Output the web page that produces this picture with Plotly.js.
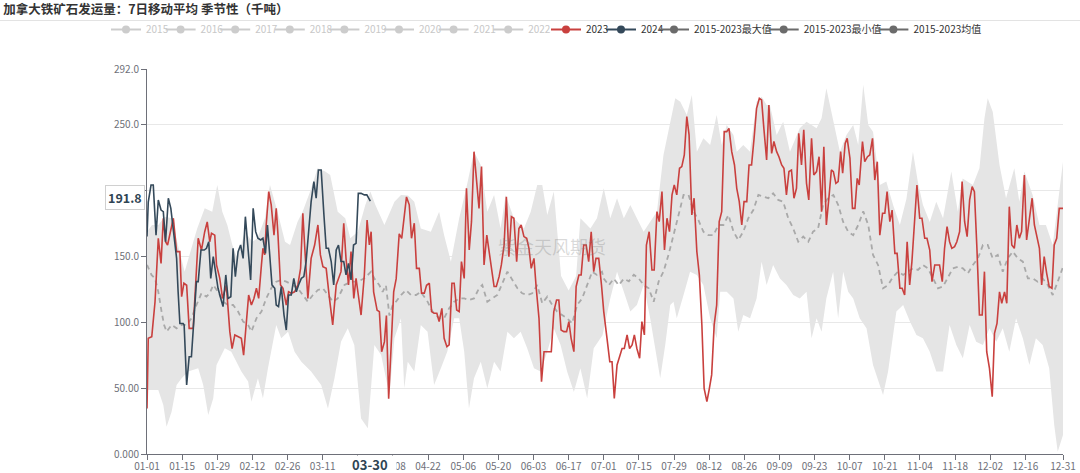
<!DOCTYPE html>
<html>
<head>
<meta charset="utf-8">
<script src="https://cdn.plot.ly/plotly-3.0.1.min.js"></script>
<style>
html,body{margin:0;padding:0;background:#fff;}
#chart{width:1080px;height:473px;}
</style>
</head>
<body>
<div id="chart"></div>
<script>
// ---------- axis labels ----------
const tickDays = [0,14,28,42,56,70,84,98,112,126,140,154,168,182,196,210,224,238,252,266,280,294,308,322,336,350,365];
const tickLabels = ['01-01','01-15','01-29','02-12','02-26','03-11','03-25','04-08','04-22','05-06','05-20','06-03','06-17','07-01','07-15','07-29','08-12','08-26','09-09','09-23','10-07','10-21','11-04','11-18','12-02','12-16','12-31'];
const yTicks = [0,50,100,150,200,250,292];
const yTickLabels = ['0.000','50.00','100.0','150.0','200.0','250.0','292.0'];

// ---------- legend names ----------
const hiddenYears = ['2015','2016','2017','2018','2019','2020','2021','2022'];
const statNames = ['2015-2023最大值','2015-2023最小值','2015-2023均值'];

// ---------- 2023 (day of year, value) ----------
const days2023 = [
0,0.5,1.9,3.2,4.5,5.6,6.5,7.4,8.2,9.1,10.5,11.8,13.1,13.8,14.7,15.8,16.8,18.4,20.4,21.7,23,24,25,25.7,27,27.7,29,30.1,31.6,33,33.9,35,36.3,37.6,38.5,39.6,40.5,41.6,42.6,43.6,44.5,45.6,46.2,46.9,47.5,48.5,49.5,50.6,51.5,52.2,53.2,54.2,55.5,56.4,57.5,58.8,60.1,61.2,62.1,62.8,64.1,65.4,66.8,68.1,69.1,70.1,71.4,72.7,74,75.4,77.3,78.4,79.3,80.3,81.3,82.4,83.3,84.2,85.3,86.6,87.7,88.6,89.3,90.3,
91.7,92.6,93.5,94.6,95.4,96.3,97.2,98.3,99.3,100.5,101.5,102.5,103.4,104.5,105.4,106.5,107.4,108.5,109.4,110.5,111.4,112.5,113.4,114.4,115.5,116.4,117.5,118.4,119.5,120.4,121.5,122.4,123.4,124.4,125.3,126.4,127.3,128.4,129.3,130.3,131.3,132.3,133.3,134.3,135.4,136.3,137.2,138.3,139.2,140.3,141.2,142.3,143.2,144.2,145.2,146.2,147.3,148.2,149.1,150.2,151.3,152.2,153.1,154.2,155.1,156.2,157.2,158.2,161.1,162.1,163.2,164.1,165,166.1,167.2,168.1,169,170.1,171,172.1,173,174,175,176,177,178,178.9,180,181.1,182,
183.3,184.4,185.3,186.2,187.3,188.4,189.3,190.2,191.3,192.3,193.3,194.2,195.2,196.3,197.2,198.2,199,200.1,201.2,202.1,203.2,204.1,205.2,206.2,207.2,208.2,209.2,210.1,211.1,212.2,213.1,214.1,215.1,216,217.1,218,219.1,220.1,221.1,222,223.1,224.1,225,226,227,228,229,230,231,231.9,233,234.1,235,236,237,237.9,239,239.9,240.9,241.9,242.9,244,244.9,245.8,246.9,247.8,248.9,249.8,250.9,251.8,252.9,253.8,254.8,255.8,256.8,257.8,258.8,259.7,260.8,261.7,262.8,263.7,264.8,265.7,266.8,267.8,268.8,269.7,270.7,271.7,272.7,
273.5,274.5,275.4,276.4,277.2,278.2,279,280.1,281.1,282.1,283,283.8,285.1,286,287.1,288,289.1,290,291,292,293.1,294,294.9,296,296.9,298,298.9,300,300.9,301.9,302.9,303.9,304.8,305.9,306.8,307.9,308.8,309.9,310.8,311.9,312.8,313.9,314.8,315.8,316.9,317.8,318.8,319.8,320.7,321.8,322.7,323.8,324.8,325.8,326.8,327.8,328.8,329.7,330.7,331.7,332.8,333.7,334.6,335.7,336.8,337.7,338.7,339.7,340.6,341.7,342.6,343.6,344.6,345.6,346.6,347.6,348.5,349.6,350.5,351.6,352.7,353.6,354.5,355.6,356.5,357.5,358.5,359.5,360.6,361.5,362.5,363.5,365];
const values2023 = [
34.6,87.7,89,115.5,163.6,144.6,178.8,161,158.5,166,178.8,153.5,153.5,119.3,129.5,128,95.3,95.3,163.6,154.7,168.6,176,161,167.4,166,143.4,133.2,118,128,92.8,80,90.3,89,87.7,75,97.9,120.6,113,118,125.7,118,143.4,156,151,173.7,199,188.9,166,186.3,166,128.2,125.7,113,123,121.9,123,128.2,140.8,182.6,158.5,118,148.4,158.5,173.7,151,142,140.8,118,97.9,128.2,138.3,175,148.4,128.2,153.5,118,133.2,120.6,105.4,135.8,177.5,158.5,168.6,123,
109,108,77.6,85,105,42,82.7,123,133,167,163.6,178.8,195,189,163.6,175,140.8,140.8,122,122,128,129.5,108,106.7,106.7,100.4,110.5,87.7,81.4,82.7,129.5,129.5,109.2,108,145.9,133.2,201.5,154.7,176.2,229.3,209,186.3,218,143.4,166,153.5,143.4,127,127,134.5,143.4,158.5,195,149.7,180,178.8,145.9,171,173.7,164.9,163.6,156,140.8,148.4,125.7,102.9,54.9,77.6,77.6,108,116.8,116.8,94,92.8,92.8,100.4,87.7,77.6,127,135.8,135.8,158.5,158.5,145.9,168.6,138.3,148.4,148.4,128.2,108,
87.7,70,70,42.2,67.5,75,80,80,90.3,80,82.7,90.3,80,72.6,100.4,90.3,158.5,168.6,139.6,139.6,183.8,176.2,199,154.7,178.8,168.6,196.5,204,196.5,216.7,218,226.8,255.9,242,181.3,194,153.5,135.8,97.9,49.8,39.7,49.8,60,97.9,113,176.2,183.8,244.5,244.5,247,229.3,219.2,201.5,191.4,173.7,191.4,191.4,219.2,219.2,239.4,262.2,269.8,268.5,247,223,264.7,228,237,229.3,225.5,219.2,216.7,196.5,214.2,215.4,194,201.5,243.2,219.2,245.8,205.3,192.7,239.4,211.6,214.2,225.5,183.8,233.1,173.7,194,215.4,
214.2,205.3,206.6,229.3,212.9,235.6,239.4,224.3,186.3,186.3,209,204,236.9,221.7,225.5,226.8,239.4,207.8,221.7,166,182.6,182.6,199,176.2,185,152.2,152.2,125.7,125.7,120.6,161,128.2,145.9,178.8,204,178.8,178.8,163.6,163.6,154.7,130.7,143.4,143.4,143.4,130.7,156,172.4,161,156,157.3,161,168.6,206.6,176.2,164.9,192.7,202.8,199,156,105.4,105.4,138.3,77.6,65,43.5,91.5,99,123,114.3,123,114.3,187.6,158.5,156,173.7,163.6,168.6,211.6,162.3,178.8,194,173.7,164.9,156,128.2,149.7,137,127,125.7,158.5,163.6,186.3,186.3];

// ---------- 2024 ----------
const days2024 = [0,0.5,1.6,2.5,3.6,4.5,5.6,6.5,7.4,8.5,9.5,10.5,11.8,12.4,13.1,14.4,14.8,15.8,16.8,17.7,18.8,19.7,20.4,21.5,22.8,23.7,24.6,25.4,26.4,27.3,28.3,29.4,30.3,31.4,32.3,33.4,34.3,35.2,36.3,37.3,38.3,39.2,40.3,41.3,42.3,43.3,44.2,45.3,46.2,47.2,48,48.9,49.8,50.9,51.5,52.4,53.5,54.6,55.5,56.4,57.5,58.5,59.5,60.4,61.5,62.5,63.4,64.4,65.4,66.5,67.4,68.3,69.4,70.5,71.4,72.3,73.4,74.4,75.4,76.3,77.3,78.4,79.3,80.3,81.3,82.3,83.3,84.2,85.3,86.6,87.6,89];
const values2024 = [165,191,204,204,166,192.7,185,183.8,161,194,186.3,171,148.4,123,99,99,97.9,52.3,73.8,73.8,108,130.7,130.7,154.7,154.7,156,161,133.2,149.7,138.3,125.7,118,111.8,135.8,118,119.3,156,134.5,153.5,158.5,148.4,180,153.5,132,186.3,168.6,163.6,162.3,163.6,152.2,173.7,151,128.2,125.7,113,111.8,127,105.4,94,120.6,120.6,133.2,123,128.2,133.2,134.5,146,168.6,191.4,206.6,194,215.4,215.4,181.3,156,156,146,128.2,154.7,158.5,146,146,135.8,144.6,132,158.5,159.8,197.7,197.7,196.5,196.5,191.8];

// ---------- 2015-2023 max ----------
const daysMax = [0,2,4.5,7,10,12,15,18,20,23,26,28,30,32,34,36,39,42,44,47,49,52,55,57,60,62,65,68,71,73,76,79,81,84,87,89,91,
94.6,98.6,101.2,104,106.5,109.1,113.1,116.4,118.4,121.1,124.4,127.5,130.3,133,135.6,138.3,140.9,142.9,146.2,150.2,152.9,155.5,157.5,159.5,162.1,165,168,171,172.7,176.7,179.3,182,
184.6,187.3,190,192.6,195.2,197.9,200.5,203.2,205.8,207.8,210.5,212.5,215.1,217.1,219.1,221.7,224.4,227,229,231,233.7,235,237.6,240.3,242.9,244.9,246.9,248.2,250.9,253.5,256.2,260.1,262.8,266.8,268.8,270.7,273.4,
276.1,278.7,281.4,283.4,285.4,287.4,289.3,292,294.6,297.3,300,302.6,305.2,307.2,309.2,311.9,314.5,317.2,320.5,323.1,325,329.1,331.7,333.7,335,337,339.7,342.3,345.6,347.6,349.6,352.9,355.6,358.2,360.9,365];
const valuesMax = [168.6,173.7,173.7,180,178.8,161,138.3,158.5,171,186.3,183.8,204,183.8,173.7,158.5,148.4,168.6,161,163.6,178.8,204,183.8,161,158.5,176.2,183.8,199,216.7,214.2,211.6,183.8,178.8,163.6,168.6,188.9,199,188.9,
173.7,191.4,196.5,196,191.4,171,168.6,183.8,166,145.9,178.8,204,229.3,219.2,183.8,196.5,171,196.5,178.8,171,183.8,204,204,181.3,199,135,124,135,178.8,171,178.8,201.5,
178.8,194,178.8,188.9,178.8,168.6,176.2,183.8,226.8,244.5,269.8,267.2,257.1,272.3,229.3,239.4,234.4,257.1,234.4,249.6,242,229.3,234.4,229.3,267.2,271,264.7,264.7,242,252,229.3,247,252,247,254.6,277.4,254.6,
229.3,242,249.6,234.4,280,249.6,244.5,204,206.6,188.9,173.7,193.4,229.3,206,188.9,176,191.4,178.8,214.2,183.8,209,204,216.7,254.6,269.8,259.6,219.2,193.9,216.7,191.4,214.2,196.5,173.7,173.7,158.5,221.7];

// ---------- 2015-2023 min ----------
const daysMin = [0,4.5,6.5,7.8,9.8,11.8,13.8,16.4,20.4,22.4,24.4,26.4,27.7,31,33.6,37.6,40.3,41.6,44.2,46.2,48.2,51.5,53.5,56.2,58.8,61.5,65.4,69.4,72.1,74.7,77.3,80,82.6,85.3,88,90.6,
93.3,96.6,98.6,101.2,102.5,103.9,106.5,109.1,111.8,114.4,117.1,119.7,122.4,124.4,126.4,128.3,130.3,133,135.6,138.3,140.9,143.6,146.2,148.9,151.5,154.2,156.8,159.5,162.1,164.8,167.4,170.1,172.7,175.4,178,181.5,
184.6,187.3,190,192.6,195.2,197.9,200.5,203.2,204.5,206.5,208.5,209.8,211.1,213.8,216.4,219.1,221.7,224.4,227,228.4,231,233.7,235.6,237.6,240.3,242.9,244.9,246.9,249.5,252.2,254.8,257.5,260.1,262.8,264.8,266.8,268.8,270.7,273.4,
275.4,277.4,279.4,281.4,284,286.7,289.3,292,293.3,295.3,298.6,301.3,304,306.6,309.2,311.9,314.5,317.2,319.8,322.5,325.1,327.8,330.4,333.1,335.7,338.4,341,343.6,346.3,349,351.6,354.2,356.9,359.5,361.5,362.9,365];
const valuesMin = [48.5,48.5,37.2,20.7,32.1,52.3,57.4,62.5,65,52.3,29.6,42.2,67.5,80.2,77.6,62.5,54.9,39.7,57.4,42.2,65,97.9,87.7,92.8,77.6,70,62.5,52.3,34.6,57.4,85.2,95.3,82.7,27,19.5,82.7,
75,44.8,87.7,102.9,49.8,70,62.5,97.9,92.8,52.3,65,78,102.9,102.9,77.6,34.6,57.4,70,49.8,70,62.5,92.8,87.7,92.8,80.2,65,62.5,77.6,95.3,82.7,62.5,47,65,42.2,80.2,90,
118,138.3,123,108,113,128.2,102.9,72.6,57.4,82.7,113,115.5,102.9,120.6,138.3,135.8,128.2,102.9,87.7,123,123,118,92.8,105.4,102.9,118,145.9,128.2,143.4,133.2,128.2,120.6,118,123,87.7,102.9,92.8,118,138.3,
102.9,138.3,123,118,102.9,95.3,67.5,52.3,44.8,62.5,108,113,100.4,90.3,87.7,77.6,62.5,62.5,97.9,82.7,72.6,97.9,85.2,82.7,95.3,85.2,95.3,77.6,102.9,87.7,67.5,87.7,82.7,65,22,1.8,14.4];

// ---------- 2015-2023 mean ----------
const daysMean = [0,1.8,3.2,4.5,5.8,6.8,7.8,9.8,11.8,13.8,15.8,17.7,19.7,21.7,23.7,25,26.4,28.3,30.3,32.3,34.3,36.3,38.3,40.3,41.6,43.6,45.6,47.5,49.5,51.5,53.5,55.5,58.1,60.1,62.1,64.1,66.1,68.1,70.1,72.1,74.1,76,78.7,81.3,84,86.6,89.3,
90.6,92.6,93.9,95.2,96.6,97.9,99.2,101.2,103.2,105.2,107.2,109.1,111.8,113.8,116.4,118.4,120.4,122.4,124.4,126.4,128.4,130.3,132.3,133.6,135.6,137.6,139.6,141.6,143.6,145.6,147.6,149.5,151.5,153.5,155.5,157.5,159.5,161.5,163.4,165.4,167.4,169.4,171.4,173.4,175.4,177.4,179.3,181.3,
182,184,186,188,190,192,194,196,198,199.9,201.9,203.9,205.8,207.8,209.8,211.8,213.8,215.8,217.8,219.7,221.7,223.7,225.7,227.7,229.7,231.7,233.7,235.6,237.6,239.6,241.6,243.6,245.6,247.6,249.5,251.5,253.5,255.5,257.5,259.5,261.5,263.5,265.4,267.4,269.4,271.4,
273.5,275.4,277.4,279.4,281.4,283.4,285.4,287.4,289.3,291.3,293.3,295.3,297.3,299.3,301.3,303.3,305.2,307.2,309.2,311.2,313.2,315.2,317.2,319.1,321.1,323.1,325.1,327.1,329.1,331.1,333.1,335,337,339,341,343,345,347,349,351,352.9,354.9,356.9,358.9,360.9,362.9,365];
const valuesMean = [143.4,135.8,133.2,123,108,97.9,92.8,97.9,95.3,97.9,97.9,102.9,113,121.9,119.3,121.9,128.2,123,115.5,113,113,108,100.4,97.9,92.8,102.9,108,118,125.7,130.7,132,130.7,128.2,125.7,120.6,115.5,120.6,124.4,125.7,120.6,115.5,118,128.2,130.7,130.7,133.2,138.3,
133,128,123,128,105,113,115.5,120.6,124.4,120.6,120.6,123,115.5,108,103,103,110.5,115.5,118,118,116.8,118,125.7,128.2,115.5,118,120.6,129.5,138.3,132,125.7,121.9,120.6,121.9,128.2,114.3,119.3,113,108,105.4,102.9,99,113,118,128.2,138.3,135.8,138.3,
133,128,133,128,133,131,136,133,128,125.7,115.5,131,138.3,151,166,181,196.5,196.5,184,177.5,168.6,166,166,173.7,173.7,181.3,168.6,162.3,168.6,178.8,185,196.5,195,194,197.7,192.7,191.4,178.8,171,161,164.9,161,168.6,171,188.9,194,
196.5,189,176,168.6,166,173.7,184,173.7,151,143.4,125.7,128.2,134.5,138.3,135.8,138.3,140.8,139.6,143.4,140.8,133.2,125.7,127,133.2,140.8,142,140.8,137,143.4,148.4,158.5,158.5,148.4,151,138.3,148.4,153.5,148.4,145.9,133.2,133.2,130.7,133.2,128.2,120.6,130.7,142];

// ---------- styles ----------
const C2023 = '#c9403e';
const C2024 = '#34495a';
const CSTAT = '#6b6b6b';
const CHIDE = '#cccccc';
const FONT = '"Noto Sans CJK SC","Noto Sans",sans-serif';

const traces = [
  {x: daysMin, y: valuesMin, mode: 'lines', line: {width: 0, color: 'rgba(0,0,0,0)'}, showlegend: false, hoverinfo: 'skip', name: statNames[1]},
  {x: daysMax, y: valuesMax, mode: 'lines', line: {width: 0, color: 'rgba(0,0,0,0)'}, fill: 'tonexty', fillcolor: '#e5e5e5', showlegend: false, hoverinfo: 'skip', name: statNames[0]},
  {x: daysMean, y: valuesMean, mode: 'lines', line: {width: 1.8, color: '#a9a9a9', dash: '5px,4px'}, showlegend: false, name: statNames[2]},
  {x: days2023, y: values2023, mode: 'lines', line: {width: 1.6, color: C2023}, showlegend: false, name: '2023'},
  {x: days2024, y: values2024, mode: 'lines', line: {width: 1.6, color: C2024}, showlegend: false, name: '2024'}
];

// legend entries (symbol only, no data)
function legendEntry(name, color, legendId){
  return {x:[null], y:[null], mode:'lines+markers', name:name, legend:legendId,
    line:{color:color, width:2}, marker:{color:color, size:8}};
}
// invisible spacer so the last label of a fixed-width legend row is not clipped
function legendSpacer(legendId){
  return {x:[null], y:[null], mode:'lines', name:' ', legend:legendId,
    line:{color:'rgba(0,0,0,0)', width:0}};
}
hiddenYears.forEach(function(n){ traces.push(legendEntry(n, CHIDE, 'legend')); });
traces.push(legendSpacer('legend'));
traces.push(legendEntry('2023', C2023, 'legend2'));
traces.push(legendEntry('2024', C2024, 'legend2'));
traces.push(legendSpacer('legend2'));
statNames.forEach(function(n){ traces.push(legendEntry(n, CSTAT, 'legend3')); });

const PL = 147, PW = 916, PT = 69, PH = 385;
function px2x(p){ return (p - PL) / PW; }
function py2y(p){ return 1 + (PT - p) / PH; }

const legendBase = {orientation:'h', xanchor:'left', yanchor:'middle', y: py2y(29.5),
  itemwidth:30, bgcolor:'rgba(0,0,0,0)', borderwidth:0, itemclick:false, itemdoubleclick:false,
  entrywidthmode:'pixels', traceorder:'normal'};

const layout = {
  width:1080, height:473,
  margin:{l:PL, r:1080-PL-PW, t:PT, b:473-PT-PH, pad:0, autoexpand:false},
  paper_bgcolor:'#ffffff', plot_bgcolor:'#ffffff',
  font:{family:FONT, size:10, color:'#6e7079'},
  hovermode:false,
  title:{text:'加拿大铁矿石发运量：7日移动平均 季节性（千吨）', xref:'container', yref:'container',
    x:0.003, xanchor:'left', y:1-10/473, yanchor:'middle',
    font:{family:FONT, size:12.5, color:'#333333', weight:700}},
  xaxis:{range:[0,365], tickmode:'array', tickvals:tickDays, ticktext:tickLabels,
    showgrid:false, zeroline:false, showline:true, linecolor:'#6e7079', linewidth:1,
    ticks:'outside', ticklen:5, tickcolor:'#6e7079', ticklabelstandoff:-2,
    tickfont:{size:10, color:'#6e7079'}, fixedrange:true},
  yaxis:{range:[0,292], tickmode:'array', tickvals:yTicks, ticktext:yTickLabels,
    showgrid:true, gridcolor:'#e8e8e8', gridwidth:1, zeroline:false, showline:true, linecolor:'#6e7079', linewidth:1,
    ticks:'outside', ticklen:5, tickcolor:'#6e7079', tickfont:{size:10, color:'#6e7079'}, fixedrange:true},
  legend: Object.assign({}, legendBase, {x:px2x(106), entrywidth:9.6, font:{family:FONT, size:10, color:'#c8c8c8'}}),
  legend2: Object.assign({}, legendBase, {x:px2x(546), entrywidth:10, font:{family:FONT, size:10, color:'#333333'}}),
  legend3: Object.assign({}, legendBase, {x:px2x(654), entrywidth:64.7, font:{family:FONT, size:10, color:'#333333'}}),
  shapes:[
    {type:'line', xref:'paper', yref:'paper', x0:px2x(0), x1:px2x(1080), y0:py2y(20.5), y1:py2y(20.5),
     line:{color:'#e3e3e3', width:1}}
  ],
  annotations:[
    {text:'紫金天风期货', xref:'paper', yref:'paper', x:px2x(551.5), y:py2y(246), showarrow:false,
     font:{family:FONT, size:18, color:'rgba(120,120,120,0.28)'}},
    {text:'<b>191.8</b>', xref:'paper', yref:'y', x:px2x(145), xanchor:'right', y:191.8, yshift:4, yanchor:'middle',
     showarrow:false, bgcolor:'#ffffff', bordercolor:'#d0d0d0', borderwidth:1, borderpad:2,
     font:{family:FONT, size:12.5, color:'#2f4554'}},
    {text:'<b>03-30</b>', xref:'x', yref:'paper', x:89, y:py2y(465), yanchor:'middle', showarrow:false,
     bgcolor:'#ffffff', width:50, height:15, font:{family:FONT, size:13, color:'#2f4554'}}
  ]
};

Plotly.newPlot('chart', traces, layout, {displayModeBar:false, staticPlot:true});
</script>
</body>
</html>
